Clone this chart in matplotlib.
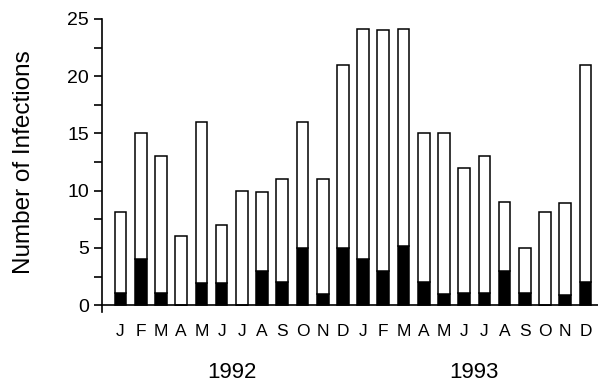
import matplotlib.pyplot as plt
import numpy as np
from matplotlib.transforms import blended_transform_factory

plt.rcParams['font.family'] = ['Liberation Sans', 'DejaVu Sans']

# monthly data, Jan 1992 .. Dec 1993
months = ['J', 'F', 'M', 'A', 'M', 'J', 'J', 'A', 'S', 'O', 'N', 'D'] * 2
years = ['1992', '1993']
total = [8.1, 15, 13, 6, 16, 7, 10, 9.9, 11, 16, 11, 21,
         24.1, 24, 24.1, 15, 15, 12, 13, 9, 5, 8.1, 8.9, 21]
black = [1.1, 4, 1.1, 0, 1.9, 1.9, 0, 3, 2, 5, 1, 5,
         4, 3, 5.2, 2, 1, 1.1, 1.1, 3, 1.1, 0, 0.9, 2]

x = np.arange(len(total))
white = np.array(total) - np.array(black)

fig = plt.figure(figsize=(5.98, 3.83), dpi=100)
ax = fig.add_axes([102/598, (383-312)/383, 496/598, (312-19)/383])

ax.bar(x, black, width=0.58, color='black', edgecolor='black', linewidth=1.1)
ax.bar(x, white, bottom=black, width=0.58, facecolor='white', edgecolor='black', linewidth=1.1)

ax.set_xlim(-0.916, 23.62)
ax.set_ylim(-0.6, 25)

ax.spines['top'].set_visible(False)
ax.spines['right'].set_visible(False)
ax.spines['bottom'].set_position(('data', 0))
ax.spines['left'].set_bounds(-0.6, 25)
for s in ['left', 'bottom']:
    ax.spines[s].set_linewidth(1.2)

ax.set_yticks([0, 5, 10, 15, 20, 25])
ax.set_yticks(np.arange(2.5, 25, 5), minor=True)
ax.tick_params(axis='y', which='both', length=6, width=1.2, labelsize=14, pad=3.5)

ax.set_xticks(x)
ax.set_xticklabels(months)
ax.tick_params(axis='x', length=0, labelsize=12.5, pad=13.5)

ax.set_ylabel('Number of Infections', fontsize=17.5)
ax.yaxis.set_label_coords(-0.135, 0.51)

trans = blended_transform_factory(ax.transData, fig.transFigure)
ax.text(5.5, 1 - 372/383, years[0], transform=trans, ha='center', va='center', fontsize=16)
ax.text(17.5, 1 - 372/383, years[1], transform=trans, ha='center', va='center', fontsize=16)

fig.savefig('out.png', dpi=100)
